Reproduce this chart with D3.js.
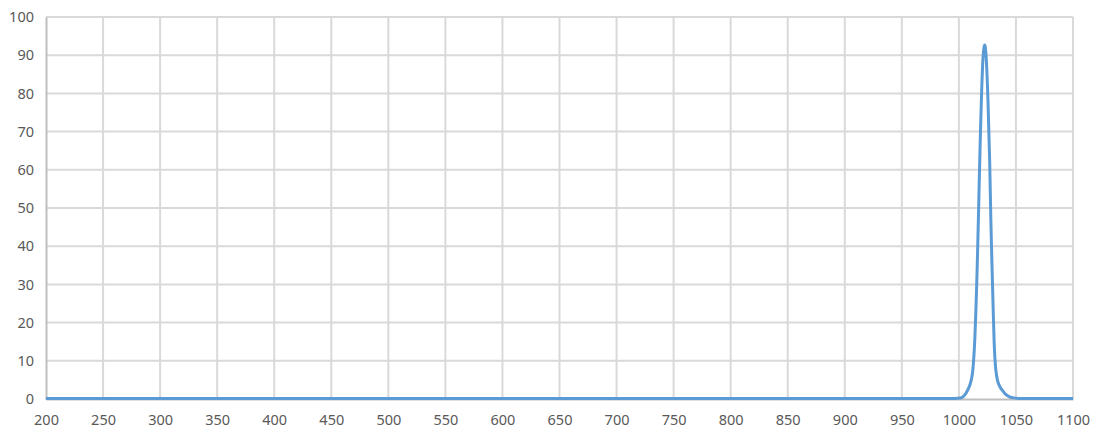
<!DOCTYPE html>
<html>
<head>
  <meta charset="utf-8">
  <script src="https://d3js.org/d3.v7.min.js"></script>
  <style>
    html, body { margin: 0; padding: 0; background: #ffffff; }
    svg { display: block; }
    .tick text { font-family: "Noto Sans", "DejaVu Sans", sans-serif; font-size: 14.5px; fill: #595959; }
  </style>
</head>
<body>
  <svg id="canvas" width="1093" height="436"></svg>
<script>
  // transmission curve
  const wavelengths = [200, 300, 400, 500, 600, 700, 800, 900, 950, 990, 995, 1001, 1004, 1006, 1008, 1010, 1011, 1012, 1013, 1014, 1015, 1016, 1017, 1018, 1019, 1020, 1021, 1022, 1022.5, 1023, 1024, 1025.5, 1027, 1028, 1029, 1030, 1031, 1032, 1033, 1034, 1036, 1038, 1041, 1044, 1048, 1055, 1070, 1085, 1100];
  const transmission = [0.1, 0.1, 0.1, 0.1, 0.1, 0.1, 0.1, 0.1, 0.1, 0.12, 0.15, 0.25, 0.7, 1.4, 2.5, 4, 5.2, 7, 10.5, 16, 24, 34, 46, 59, 71, 81, 88.5, 92, 92.7, 92.4, 89, 78, 62, 47, 35, 24, 14, 8.8, 6.2, 4.7, 3.2, 2.3, 1.2, 0.6, 0.3, 0.12, 0.1, 0.1, 0.1];
  const xTicks = [200, 250, 300, 350, 400, 450, 500, 550, 600, 650, 700, 750, 800, 850, 900, 950, 1000, 1050, 1100];
  const yTicks = [0, 10, 20, 30, 40, 50, 60, 70, 80, 90, 100];

  const svg = d3.select("svg");
  const margin = { left: 46, right: 20, top: 17, bottom: 37 };
  const width = 1093, height = 436;

  const x = d3.scaleLinear().domain([200, 1100]).range([margin.left, width - margin.right]);
  const y = d3.scaleLinear().domain([0, 100]).range([height - margin.bottom, margin.top]);

  // grid
  svg.append("g")
      .selectAll("line")
      .data(yTicks.slice(1))
      .join("line")
      .attr("x1", margin.left).attr("x2", width - margin.right)
      .attr("y1", d => y(d)).attr("y2", d => y(d))
      .attr("stroke", "#d9d9d9").attr("stroke-width", 2);

  svg.append("g")
      .selectAll("line")
      .data(xTicks.slice(1))
      .join("line")
      .attr("x1", d => x(d)).attr("x2", d => x(d))
      .attr("y1", y(0)).attr("y2", y(100))
      .attr("stroke", "#d9d9d9").attr("stroke-width", 2);

  // axes
  const xAxis = svg.append("g")
      .attr("transform", `translate(0,${y(0)})`)
      .call(d3.axisBottom(x).tickValues(xTicks).tickFormat(d3.format("d")).tickSize(0).tickPadding(16));
  xAxis.select(".domain").attr("stroke", "#bfbfbf").attr("stroke-width", 2);

  const yAxis = svg.append("g")
      .attr("transform", `translate(${margin.left},0)`)
      .call(d3.axisLeft(y).tickValues(yTicks).tickFormat(d3.format("d")).tickSize(0).tickPadding(12));
  yAxis.select(".domain").attr("stroke", "#bfbfbf").attr("stroke-width", 2);

  // curve
  const line = d3.line()
      .x(d => x(d[0]))
      .y(d => y(d[1]))
      .curve(d3.curveMonotoneX);

  svg.append("path")
      .datum(d3.zip(wavelengths, transmission))
      .attr("fill", "none")
      .attr("stroke", "#5b9bd5")
      .attr("stroke-width", 3)
      .attr("stroke-linejoin", "round")
      .attr("d", line);
</script>
</body>
</html>
